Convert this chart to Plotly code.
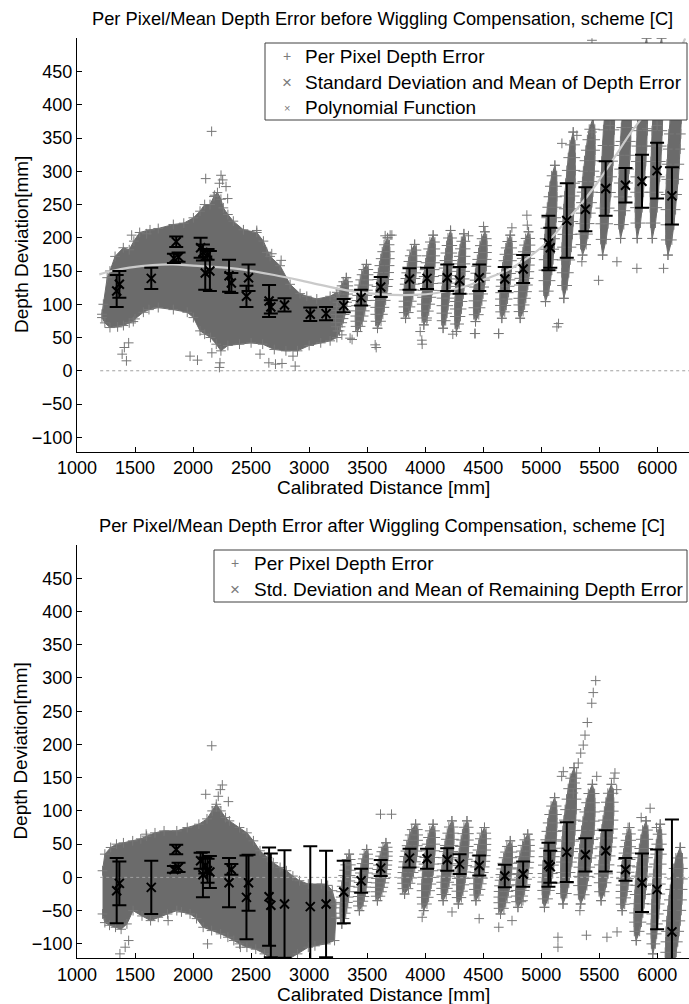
import numpy as np
import plotly.graph_objects as go

# ------------------------------------------------------------------ data
title_top = "Per Pixel/Mean Depth Error before Wiggling Compensation, scheme [C]"
title_bot = "Per Pixel/Mean Depth Error after Wiggling Compensation, scheme [C]"
x_label = "Calibrated Distance [mm]"
y_label = "Depth Deviation[mm]"
x_ticks = [1000, 1500, 2000, 2500, 3000, 3500, 4000, 4500, 5000, 5500, 6000]
y_ticks = [-100, -50, 0, 50, 100, 150, 200, 250, 300, 350, 400, 450]
x_range = [1000, 6273]
y_range = [-121.7, 500]

legend_top_names = ["Per Pixel Depth Error",
                    "Standard Deviation and Mean of Depth Error",
                    "Polynomial Function"]
legend_bot_names = ["Per Pixel Depth Error",
                    "Std. Deviation and Mean of Remaining Depth Error"]

# mean / std of depth error per calibration frame
top_x = [1342, 1365, 1640, 1835, 1855, 1875, 2065, 2085, 2105, 2125, 2145, 2310, 2330,
         2460, 2478, 2655, 2670, 2788, 3010, 3146, 3298, 3448, 3617, 3865, 4016, 4190,
         4296, 4466, 4686, 4844, 5062, 5078, 5220, 5380, 5555, 5726, 5868, 5998, 6126]
top_mean = [120, 130, 139, 169, 194, 171, 185, 178, 147, 175, 150, 143, 132,
            112, 140, 105, 96, 99, 85, 86, 98, 110, 126, 138, 139, 140,
            136, 140, 138, 153, 192, 185, 226, 243, 274, 279, 285, 301, 263]
top_std = [24, 20, 16, 7, 8, 7, 15, 12, 25, 8, 30, 24, 15,
           16, 20, 24, 10, 10, 10, 10, 10, 12, 15, 16, 16, 20,
           20, 20, 18, 21, 41, 30, 56, 33, 41, 26, 40, 42, 43]

bot_x = top_x
bot_mean = [-20, -9, -15, 12, 42, 15, 25, 4, 18, 10, 8, -8, 12,
            -30, -8, -29, -42, -40, -44, -40, -22, -5, 14, 29, 28, 27,
            20, 18, 2, 5, 19, 16, 38, 34, 40, 12, -8, -18, -82]
bot_std = [49, 33, 40, 5, 7, 7, 12, 34, 12, 18, 24, 37, 8,
           63, 42, 74, 78, 81, 91, 80, 47, 18, 12, 14, 15, 17,
           15, 15, 17, 19, 33, 24, 45, 25, 31, 17, 44, 60, 169]

# fitted polynomial
poly_x = [1192, 1300, 1450, 1650, 1828, 2000, 2345, 2700, 3000, 3324, 3612, 3899,
          4100, 4330, 4550, 4761, 5049, 5193, 5340, 5480, 5624, 5767, 5882, 6000,
          6130, 6240]
poly_y = [145, 150, 155, 159, 160, 158, 154, 144, 133, 121, 115, 114,
          117, 126, 140, 156, 193, 221, 250, 282, 319, 357, 384, 418,
          458, 500]

# dense per-pixel cloud envelope (near range), before compensation
top_blob_up_x = [1215, 1227, 1260, 1284, 1328, 1399, 1450, 1490, 1540, 1629, 1700, 1830,
                 1920, 2003, 2060, 2100, 2146, 2180, 2210, 2240, 2261, 2300, 2347, 2434,
                 2549, 2606, 2664, 2750, 2836, 2922, 2980, 3066, 3181, 3239, 3262]
top_blob_up_y = [85, 100, 140, 150, 172, 185, 182, 195, 208, 212, 214, 220,
                 222, 230, 240, 250, 250, 262, 268, 258, 245, 235, 225, 212,
                 208, 195, 172, 158, 130, 116, 112, 108, 112, 118, 110]
top_blob_lo_x = [3262, 3239, 3181, 3100, 3000, 2900, 2800, 2700, 2600, 2500, 2400, 2300,
                 2240, 2200, 2150, 2100, 2060, 2003, 1950, 1830, 1700, 1620, 1572, 1500,
                 1485, 1450, 1400, 1350, 1284, 1240, 1215]
top_blob_lo_y = [60, 50, 45, 42, 38, 30, 30, 32, 40, 42, 40, 38,
                 30, 40, 50, 55, 60, 80, 88, 92, 95, 92, 88, 78,
                 74, 72, 68, 66, 65, 72, 80]

# dense per-pixel cloud envelope (near range), after compensation
bot_blob_up_x = [1220, 1240, 1290, 1340, 1400, 1480, 1550, 1600, 1672, 1750, 1860, 1950,
                 2050, 2120, 2165, 2200, 2240, 2280, 2313, 2400, 2464, 2520, 2577, 2640,
                 2691, 2750, 2804, 2860, 2917, 2993, 3106, 3160, 3200, 3230]
bot_blob_up_y = [10, 35, 45, 50, 52, 55, 58, 62, 67, 70, 70, 75,
                 80, 88, 100, 110, 100, 90, 85, 75, 67, 55, 40, 30,
                 22, 15, 10, 2, -5, -10, -10, -12, -20, -40]
bot_blob_lo_x = [3230, 3219, 3144, 3050, 2993, 2900, 2804, 2700, 2615, 2540, 2464, 2400,
                 2351, 2300, 2238, 2160, 2087, 2030, 1974, 1900, 1860, 1780, 1700, 1634,
                 1560, 1483, 1430, 1380, 1332, 1280, 1240, 1220]
bot_blob_lo_y = [-60, -95, -100, -103, -105, -115, -125, -125, -115, -108, -105, -100,
                 -95, -90, -85, -80, -75, -62, -55, -52, -50, -55, -60, -65,
                 -58, -50, -70, -78, -75, -72, -68, -55]

# per-frame pixel clouds (far range): x extent and y extent
top_cl_xl = [3215, 3385, 3555, 3800, 3957, 4129, 4244, 4402, 4632, 4790, 5005, 5163, 5321, 5494, 5652, 5795, 5925, 6054]
top_cl_xr = [3350, 3525, 3710, 3940, 4100, 4244, 4359, 4546, 4761, 4919, 5149, 5307, 5479, 5652, 5795, 5939, 6068, 6226]
top_cl_yb = [60, 59, 64, 79, 69, 64, 59, 74, 79, 79, 104, 109, 174, 174, 199, 199, 199, 174]
top_cl_yt = [140, 160, 200, 190, 204, 211, 206, 209, 204, 209, 309, 359, 379, 480, 470, 500, 500, 470]

bot_cl_xl = [3257, 3408, 3559, 3785, 3955, 4125, 4257, 4408, 4616, 4766, 4993, 5150, 5300, 5480, 5672, 5785, 5936, 6050]
bot_cl_xr = [3370, 3521, 3691, 3955, 4100, 4260, 4389, 4540, 4766, 4917, 5150, 5320, 5480, 5640, 5785, 5936, 6050, 6238]
bot_cl_yb = [-70, -50, -35, -25, -50, -35, -40, -35, -55, -45, -45, -40, -40, -35, -50, -95, -115, -160]
bot_cl_yt = [35, 42, 52, 80, 80, 85, 85, 75, 55, 65, 120, 165, 140, 140, 75, 85, 80, 45]

# isolated per-pixel samples
top_px = [2160, 2109, 2241, 2255, 2284, 2227, 2186, 2298, 1471, 1600, 2549, 2635, 2678, 2759,
          1389, 1426, 1408, 1445, 1974, 2038, 2227, 2232, 2162, 2577, 2653, 2710, 2766, 2880, 2861,
          3578, 3974, 4238, 4427, 4634, 3370, 3655, 3713, 3282, 3353, 3569, 3957, 3971, 4014, 4431,
          4632, 5149, 5135, 4876, 4880, 4747, 4503, 4373, 3698, 5494, 5652, 5824, 6054, 5350,
          5437, 5178, 5307, 5437, 5594, 5911, 5998]
top_py = [360, 289, 294, 287, 277, 282, 264, 259, 204, 206, 211, 178, 176, 166,
          25, 15, 35, 42, 22, 16, 5, 12, 27, 25, 12, 10, 11, 7, 22,
          35, 40, 55, 56, 56, 47, 203, 204, 54, 49, 39, 59, 46, 76, 56,
          56, 71, 66, 234, 219, 215, 217, 203, 204, 136, 164, 154, 154, 164,
          497, 342, 354, 359, 369, 364, 369]

bot_px = [5469, 5448, 5435, 5397, 5377, 5362, 5340, 5319, 5305, 5291, 5276, 5190, 5176, 5478, 5635, 5627, 5650, 5938,
          2161, 2252, 2235, 2109, 2217, 2304, 2200,
          3615, 3710, 3974, 4231, 4465, 4634, 4748, 4842, 5144, 5144, 5333, 5389, 5566, 5653, 5748, 5861, 5993, 6200,
          1370, 1415, 1445, 1785, 1596, 2125, 2408]
bot_py = [296, 278, 262, 233, 214, 199, 187, 172, 157, 142, 127, 159, 152, 152, 157, 149, 132, 104,
          198, 139, 132, 125, 122, 114, 106,
          95, 95, -60, -52, -62, -75, -65, -35, -90, -105, -50, -87, -90, -82, 75, 90, 75, 45,
          -115, -105, -95, -65, 65, -100, -105]

zero_x = [1200, 6273]
zero_y = [0, 0]

# ------------------------------------------------------------------ style
FONT = "Liberation Sans, Arial, Helvetica, sans-serif"
CLOUD = "#6b6b6b"
PT = "#777777"
LEG_GREY = "#7a7a7a"
W, H = 689, 1004


def lens(xl, xr, yb, yt, n=14):
    """slanted spindle outline covering one frame's pixel cloud"""
    xs, ys = [], []
    for a, b, c, d in zip(xl, xr, yb, yt):
        w = b - a
        xa, xb = a + 0.22 * w, b - 0.22 * w
        t = np.linspace(0.0, 1.0, n)
        cx = xa + (xb - xa) * t
        cy = c + (d - c) * t
        half = 0.31 * w * np.sin(np.pi * t) ** 0.5
        xs += list(cx + half) + list((cx - half)[::-1]) + [None]
        ys += list(cy) + list(cy[::-1]) + [None]
    return xs, ys


fig = go.Figure()


def plus(x, y, xa, ya):
    return go.Scatter(x=x, y=y, mode="markers", xaxis=xa, yaxis=ya,
                      marker=dict(symbol="cross-thin", size=7, line=dict(color=PT, width=1)),
                      showlegend=False, hoverinfo="skip")


def add_panel(xa, ya, blob_up_x, blob_up_y, blob_lo_x, blob_lo_y,
              clxl, clxr, clyb, clyt, px, py, mx, mean, std, poly):
    bx = blob_up_x + blob_lo_x
    by = blob_up_y + blob_lo_y
    fig.add_trace(go.Scatter(x=bx, y=by, mode="lines", fill="toself", fillcolor=CLOUD,
                             line=dict(color=CLOUD, width=1), xaxis=xa, yaxis=ya,
                             showlegend=False, hoverinfo="skip"))
    lx, ly = lens(clxl, clxr, clyb, clyt)
    fig.add_trace(go.Scatter(x=lx, y=ly, mode="lines", fill="toself", fillcolor=CLOUD,
                             line=dict(color=CLOUD, width=1), xaxis=xa, yaxis=ya,
                             showlegend=False, hoverinfo="skip"))
    fig.add_trace(plus(bx, by, xa, ya))
    fig.add_trace(plus(lx, ly, xa, ya))
    fig.add_trace(plus(px, py, xa, ya))
    fig.add_trace(go.Scatter(x=zero_x, y=zero_y, mode="lines", xaxis=xa, yaxis=ya,
                             line=dict(color="#a0a0a0", width=1, dash="dot"),
                             showlegend=False, hoverinfo="skip"))
    if poly:
        fig.add_trace(go.Scatter(x=poly_x, y=poly_y, mode="lines", xaxis=xa, yaxis=ya,
                                 line=dict(color="#cacaca", width=2.2, shape="spline"),
                                 showlegend=False, hoverinfo="skip"))
    fig.add_trace(go.Scatter(x=mx, y=mean, mode="markers", xaxis=xa, yaxis=ya,
                             marker=dict(symbol="x-thin", size=9, color="black",
                                         line=dict(color="black", width=2)),
                             error_y=dict(type="data", array=std, color="black",
                                          thickness=2, width=7),
                             showlegend=False, hoverinfo="skip"))


add_panel("x", "y", top_blob_up_x, top_blob_up_y, top_blob_lo_x, top_blob_lo_y,
          top_cl_xl, top_cl_xr, top_cl_yb, top_cl_yt, top_px, top_py,
          top_x, top_mean, top_std, True)
add_panel("x2", "y2", bot_blob_up_x, bot_blob_up_y, bot_blob_lo_x, bot_blob_lo_y,
          bot_cl_xl, bot_cl_xr, bot_cl_yb, bot_cl_yt, bot_px, bot_py,
          bot_x, bot_mean, bot_std, False)

# ------------------------------------------------------------------ layout
x_dom = [77 / W, 1.0]
top_dom = [1 - 451.7 / H, 1 - 38.3 / H]
bot_dom = [1 - 958.3 / H, 1 - 545.0 / H]

axis_common = dict(showline=True, linecolor="black", linewidth=1, ticks="inside",
                   ticklen=5, tickcolor="black", tickwidth=1, showgrid=False,
                   zeroline=False, mirror=False, automargin=False,
                   tickfont=dict(family=FONT, size=18, color="black"))

fig.update_layout(
    width=W, height=H,
    margin=dict(l=0, r=0, t=0, b=0, pad=0, autoexpand=False),
    paper_bgcolor="white", plot_bgcolor="white", showlegend=False,
    xaxis=dict(domain=x_dom, range=x_range, anchor="y", tickvals=x_ticks, **axis_common),
    yaxis=dict(domain=top_dom, range=y_range, anchor="x", tickvals=y_ticks, **axis_common),
    xaxis2=dict(domain=x_dom, range=x_range, anchor="y2", tickvals=x_ticks, **axis_common),
    yaxis2=dict(domain=bot_dom, range=y_range, anchor="x2", tickvals=y_ticks, **axis_common),
)


def px2paper(x, y):
    return x / W, 1 - y / H


# titles and axis labels
xc = (77 + W) / 2
for off, title in [(0.0, title_top), (506.6, title_bot)]:
    for text, (x, y), size, ang in [(title, (382, 18.5 + off), 18.3, 0),
                                    (x_label, (xc, 487.5 + off), 19, 0),
                                    (y_label, (21, 245 + off), 19, -90)]:
        px_, py_ = px2paper(x, y)
        fig.add_annotation(text=text, x=px_, y=py_, xref="paper", yref="paper",
                           showarrow=False, xanchor="center", yanchor="middle",
                           textangle=ang, font=dict(family=FONT, size=size, color="black"))

# legends (boxed, top-right of each panel)
leg_specs = [
    dict(box=(265, 43, 687, 120), rows=[56.5, 82, 107.5], mx=287, tx=303,
         names=legend_top_names, marks=[("+", 14), ("×", 17), ("×", 11)]),
    dict(box=(214, 550, 687, 602), rows=[563, 589], mx=235, tx=252,
         names=legend_bot_names, marks=[("+", 14), ("×", 17)]),
]
for spec in leg_specs:
    x0, y0, x1, y1 = spec["box"]
    fig.add_shape(type="rect", xref="paper", yref="paper",
                  x0=x0 / W, x1=x1 / W, y0=1 - y1 / H, y1=1 - y0 / H,
                  line=dict(color="#404040", width=1), fillcolor="white", layer="above")
    for ry, name, (sym, ssz) in zip(spec["rows"], spec["names"], spec["marks"]):
        fig.add_annotation(text=sym, x=spec["mx"] / W, y=1 - ry / H, xref="paper", yref="paper",
                           showarrow=False, xanchor="center", yanchor="middle",
                           font=dict(family=FONT, size=ssz, color=LEG_GREY))
        fig.add_annotation(text=name, x=spec["tx"] / W, y=1 - ry / H, xref="paper", yref="paper",
                           showarrow=False, xanchor="left", yanchor="middle",
                           font=dict(family=FONT, size=19, color="black"))

fig.write_html("out.html")
